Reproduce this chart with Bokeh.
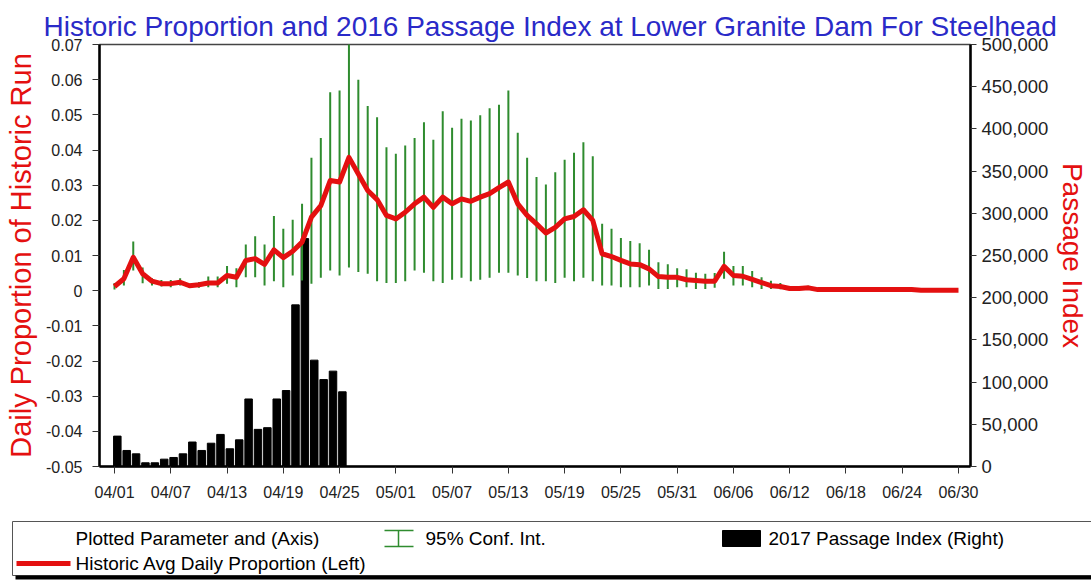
import pandas as pd
from bokeh.plotting import figure
from bokeh.models import Range1d, LinearAxis, FixedTicker, NumeralTickFormatter, ColumnDataSource
from bokeh.embed import file_html
from bokeh.resources import INLINE
from bokeh.core.properties import value

FONT = "Liberation Sans"

# ---------------- data ----------------
dates = pd.date_range("2017-04-01", "2017-06-30", freq="D")

hist_avg_prop = [
    0.0012, 0.0034, 0.0095, 0.0048, 0.0027, 0.0020, 0.0020, 0.0024, 0.0014, 0.0017,
    0.0022, 0.0022, 0.0043, 0.0038, 0.0086, 0.0091, 0.0075, 0.0116, 0.0094, 0.0112,
    0.0138, 0.0209, 0.0242, 0.0313, 0.0309, 0.0379, 0.0332, 0.0285, 0.0259, 0.0214,
    0.0204, 0.0223, 0.0247, 0.0266, 0.0237, 0.0266, 0.0247, 0.0261, 0.0254, 0.0266,
    0.0276, 0.0293, 0.0309, 0.0247, 0.0214, 0.0190, 0.0164, 0.0180, 0.0204, 0.0211,
    0.0230, 0.0200, 0.0105, 0.0097, 0.0086, 0.0076, 0.0074, 0.0062, 0.0040, 0.0038,
    0.0038, 0.0031, 0.0029, 0.0027, 0.0027, 0.0069, 0.0043, 0.0041, 0.0032, 0.0023,
    0.0014, 0.0012, 0.0006, 0.0006, 0.0008, 0.0003, 0.0003, 0.0003, 0.0003, 0.0003,
    0.0003, 0.0003, 0.0003, 0.0003, 0.0003, 0.0003, 0.0001, 0.0001, 0.0001, 0.0001,
    0.0001,
]

ci_low = [
    0.0003, 0.0015, 0.0057, 0.0021, 0.0015, 0.0012, 0.0010, 0.0015, 0.0008, 0.0008,
    0.0010, 0.0010, 0.0020, 0.0010, 0.0038, 0.0038, 0.0015, 0.0027, 0.0010, 0.0043,
    0.0029, 0.0020, 0.0037, 0.0057, 0.0043, 0.0066, 0.0053, 0.0048, 0.0027, 0.0022,
    0.0022, 0.0027, 0.0057, 0.0051, 0.0027, 0.0022, 0.0031, 0.0037, 0.0027, 0.0031,
    0.0037, 0.0051, 0.0051, 0.0043, 0.0036, 0.0027, 0.0027, 0.0022, 0.0037, 0.0027,
    0.0037, 0.0027, 0.0015, 0.0015, 0.0010, 0.0010, 0.0010, 0.0015, 0.0005, 0.0005,
    0.0010, 0.0010, 0.0005, 0.0005, 0.0008, 0.0034, 0.0015, 0.0015, 0.0010, 0.0005,
    0.0005, 0.0004, 0.0002, 0.0002, 0.0003,
]

ci_high = [
    0.0022, 0.0059, 0.0140, 0.0066, 0.0035, 0.0030, 0.0030, 0.0035, 0.0020, 0.0025,
    0.0040, 0.0040, 0.0070, 0.0064, 0.0131, 0.0155, 0.0131, 0.0212, 0.0176, 0.0202,
    0.0247, 0.0378, 0.0434, 0.0564, 0.0569, 0.0720, 0.0600, 0.0525, 0.0493, 0.0408,
    0.0389, 0.0413, 0.0434, 0.0479, 0.0429, 0.0510, 0.0463, 0.0489, 0.0484, 0.0499,
    0.0519, 0.0529, 0.0569, 0.0449, 0.0378, 0.0323, 0.0302, 0.0337, 0.0372, 0.0392,
    0.0422, 0.0382, 0.0190, 0.0176, 0.0150, 0.0141, 0.0135, 0.0116, 0.0081, 0.0075,
    0.0064, 0.0061, 0.0051, 0.0048, 0.0050, 0.0111, 0.0070, 0.0070, 0.0056, 0.0038,
    0.0028, 0.0022, 0.0012, 0.0012, 0.0014,
]

passage_2017 = [
    36000, 19000, 15000, 4400, 4400, 8700, 10700, 15000, 29000, 19000,
    27600, 38000, 21000, 31600, 80000, 44000, 46000, 80000, 90000, 191500,
    270000, 126000, 103000, 113000, 88500,
]

x_tick_labels = ["04/01", "04/07", "04/13", "04/19", "04/25", "05/01", "05/07", "05/13",
                 "05/19", "05/25", "05/31", "06/06", "06/12", "06/18", "06/24", "06/30"]
left_tick_values = [-0.05, -0.04, -0.03, -0.02, -0.01, 0.0, 0.01, 0.02, 0.03, 0.04, 0.05, 0.06, 0.07]
left_tick_labels = ["-0.05", "-0.04", "-0.03", "-0.02", "-0.01", "0", "0.01", "0.02", "0.03",
                    "0.04", "0.05", "0.06", "0.07"]
right_tick_values = [0, 50000, 100000, 150000, 200000, 250000, 300000, 350000, 400000, 450000, 500000]

title_text = "Historic Proportion and 2016 Passage Index at Lower Granite Dam  For Steelhead"
left_label = "Daily Proportion of Historic Run"
right_label = "Passage Index"
legend_header = "Plotted Parameter and (Axis)"
legend_ci = "95% Conf. Int."
legend_bar = "2017 Passage Index (Right)"
legend_line = "Historic Avg Daily Proportion (Left)"

# ---------------- derived positions ----------------
day0 = dates[0]
x_all = [(d - day0).days for d in dates]
x_ci = x_all[:len(ci_low)]
x_bar = [x + 0.3 for x in x_all[:len(passage_2017)]]
x_ticks = [(pd.Timestamp("2017-" + lbl.replace("/", "-")) - day0).days for lbl in x_tick_labels]

RED = "#e41010"
GREEN = "#2f8c2f"
TEXT = "#222222"

W = 1091
H_MAIN = 513
H_LEG = 68

# ---------------- main figure ----------------
p = figure(width=W, height=H_MAIN,
           x_range=Range1d(-1.6, 91.28), y_range=Range1d(-0.05, 0.07),
           output_backend="svg", toolbar_location=None,
           min_border_left=99, min_border_right=119, min_border_top=44, min_border_bottom=47)
p.extra_y_ranges = {"right": Range1d(0, 500000)}

p.title.text = title_text
p.title.text_font = FONT
p.title.text_font_size = "28px"
p.title.text_font_style = "normal"
p.title.text_color = "#2a2ac8"
p.title.align = "left"
p.title.offset = -56
p.title.vertical_align = "top"
p.title.standoff = 2

p.outline_line_color = "#444444"
p.outline_line_width = 1.5
p.xgrid.grid_line_color = None
p.ygrid.grid_line_color = None
p.background_fill_color = "white"
p.border_fill_color = "white"

# x axis
xa = p.xaxis[0]
xa.ticker = FixedTicker(ticks=x_ticks)
xa.major_label_overrides = {t: l for t, l in zip(x_ticks, x_tick_labels)}
xa.major_tick_out = 7
xa.major_tick_in = 0
xa.minor_tick_out = 0
xa.minor_tick_in = 0
xa.axis_line_width = 2.5
xa.axis_line_color = "black"
xa.major_tick_line_color = "#333333"
xa.major_tick_line_width = 1
xa.major_label_text_font = FONT
xa.major_label_text_font_size = "16px"
xa.major_label_text_color = TEXT
xa.major_label_standoff = 10

# left axis
ya = p.yaxis[0]
ya.ticker = FixedTicker(ticks=left_tick_values)
ya.major_label_overrides = {t: l for t, l in zip(left_tick_values, left_tick_labels)}
ya.major_tick_out = 7
ya.major_tick_in = 0
ya.minor_tick_out = 0
ya.minor_tick_in = 0
ya.axis_line_width = 2.5
ya.axis_line_color = "black"
ya.major_tick_line_color = "#333333"
ya.major_label_text_font = FONT
ya.major_label_text_font_size = "16px"
ya.major_label_text_color = TEXT
ya.major_label_standoff = 10
ya.axis_label = left_label
ya.axis_label_text_font = FONT
ya.axis_label_text_font_size = "29px"
ya.axis_label_text_font_style = "normal"
ya.axis_label_text_color = RED
ya.axis_label_standoff = 6

# right axis
ra = LinearAxis(y_range_name="right",
                ticker=FixedTicker(ticks=right_tick_values),
                formatter=NumeralTickFormatter(format="0,0"))
ra.major_tick_out = 6
ra.major_tick_in = 0
ra.minor_tick_out = 0
ra.minor_tick_in = 0
ra.axis_line_width = 2.5
ra.axis_line_color = "black"
ra.major_tick_line_color = "#333333"
ra.major_label_text_font = FONT
ra.major_label_text_font_size = "18.5px"
ra.major_label_text_color = TEXT
ra.major_label_standoff = 5
ra.axis_label = right_label
ra.axis_label_text_font = FONT
ra.axis_label_text_font_size = "28px"
ra.axis_label_text_font_style = "normal"
ra.axis_label_text_color = RED
ra.axis_label_standoff = 6
p.add_layout(ra, "right")

# glyphs
bar_src = ColumnDataSource(dict(x=x_bar, top=passage_2017))
p.vbar(x="x", top="top", bottom=0, width=0.8, source=bar_src,
       y_range_name="right", fill_color="black", line_color="black")

ci_src = ColumnDataSource(dict(x=x_ci, lo=ci_low, hi=ci_high))
p.segment(x0="x", y0="lo", x1="x", y1="hi", source=ci_src,
          line_color=GREEN, line_width=2)

line_src = ColumnDataSource(dict(x=x_all, y=hist_avg_prop))
p.line(x="x", y="y", source=line_src, line_color=RED, line_width=5, line_join="round")

# ---------------- legend figure ----------------
lg = figure(width=W, height=H_LEG, x_range=Range1d(0, W), y_range=Range1d(H_LEG, 0),
            output_backend="svg", toolbar_location=None, min_border=0,
            x_axis_type=None, y_axis_type=None)
lg.outline_line_color = None
lg.xgrid.grid_line_color = None
lg.ygrid.grid_line_color = None
lg.background_fill_color = "white"
lg.border_fill_color = "white"

lg.quad(left=[12], right=[1100], top=[8], bottom=[62], fill_color="white",
        line_color="#555555", line_width=1)
lg.quad(left=[15], right=[1100], top=[62], bottom=[66], fill_color="black", line_color=None)

# 95% CI symbol (I-beam)
lg.segment(x0=[398], y0=[17], x1=[398], y1=[33], line_color=GREEN, line_width=1.5)
lg.segment(x0=[384, 384], y0=[17, 33], x1=[413, 413], y1=[17, 33], line_color=GREEN, line_width=1.5)
# bar symbol
lg.quad(left=[722], right=[760], top=[17], bottom=[33], fill_color="black", line_color="black")
# line symbol
lg.segment(x0=[16], y0=[50], x1=[70], y1=[50], line_color=RED, line_width=5)

lg.text(x=[75, 425, 768, 75], y=[25, 25, 25, 50],
        text=[legend_header, legend_ci, legend_bar, legend_line],
        text_font=value(FONT), text_font_size="19px", text_color="black",
        text_baseline="middle", text_align="left")

open("out.html", "w").write(file_html([p, lg], INLINE))
